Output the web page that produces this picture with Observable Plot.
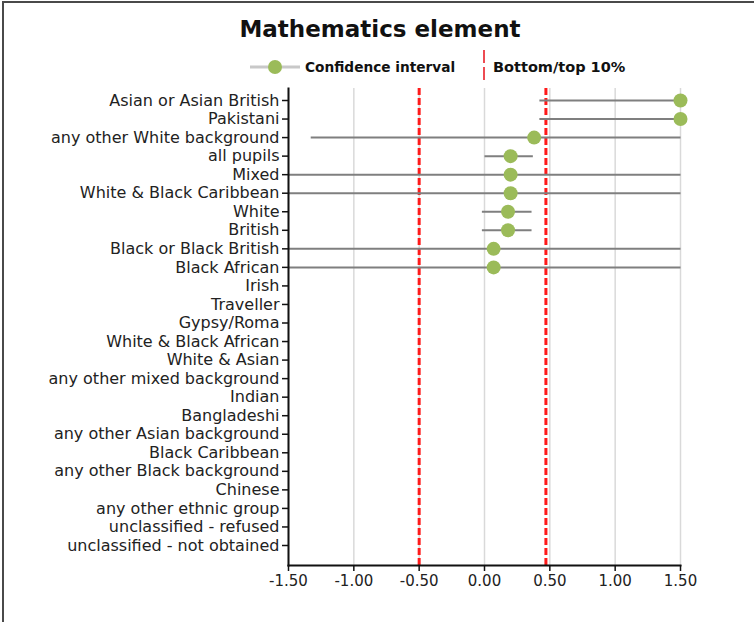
<!DOCTYPE html>
<html>
<head>
<meta charset="utf-8">
<script src="https://cdn.jsdelivr.net/npm/d3@7"></script>
<script src="https://cdn.jsdelivr.net/npm/@observablehq/plot@0.6"></script>
<style>
  body { margin: 0; background: #fff; width: 754px; height: 622px; overflow: hidden; position: relative; font-family: "DejaVu Sans", sans-serif; }
  #frame { position: absolute; left: 2px; top: 1px; width: 800px; height: 700px; border-left: 2px solid #4a4a4a; border-top: 2px solid #4a4a4a; }
  #title { position: absolute; left: 0; width: 760px; top: 16px; text-align: center; font-weight: bold; font-size: 23px; color: #111; }
  #legend { position: absolute; top: 50px; left: 0; width: 754px; height: 34px; }
  #chart { position: absolute; left: 0; top: 80px; }
</style>
</head>
<body>
<div id="frame"></div>
<div id="title">Mathematics element</div>
<svg id="legend" width="754" height="34">
  <line x1="250" x2="300" y1="17" y2="17" stroke="#c8c8c8" stroke-width="3"></line>
  <circle cx="275" cy="17" r="7" fill="#9bbb59"></circle>
  <text x="305" y="22" font-family="DejaVu Sans" font-weight="bold" font-size="13.7" fill="#111">Confidence interval</text>
  <line x1="484" x2="484" y1="0" y2="32" stroke="#e8101a" stroke-width="1.5" stroke-dasharray="13,4"></line>
  <text x="493" y="22" font-family="DejaVu Sans" font-weight="bold" font-size="14.5" fill="#111">Bottom/top 10%</text>
</svg>
<div id="chart"></div>
<script>
const categories = [
  "Asian or Asian British", "Pakistani", "any other White background", "all pupils",
  "Mixed", "White & Black Caribbean", "White", "British", "Black or Black British",
  "Black African", "Irish", "Traveller", "Gypsy/Roma", "White & Black African",
  "White & Asian", "any other mixed background", "Indian", "Bangladeshi",
  "any other Asian background", "Black Caribbean", "any other Black background",
  "Chinese", "any other ethnic group", "unclassified - refused", "unclassified - not obtained"
];
const values = [1.50, 1.50, 0.38, 0.20, 0.20, 0.20, 0.18, 0.18, 0.07, 0.07,
  null, null, null, null, null, null, null, null, null, null, null, null, null, null, null];
const ciLow = [0.42, 0.42, -1.33, 0.00, -1.50, -1.50, -0.02, -0.02, -1.50, -1.50,
  null, null, null, null, null, null, null, null, null, null, null, null, null, null, null];
const ciHigh = [1.50, 1.50, 1.50, 0.37, 1.50, 1.50, 0.36, 0.36, 1.50, 1.50,
  null, null, null, null, null, null, null, null, null, null, null, null, null, null, null];
const thresholds = [-0.50, 0.47];
const xTicks = [-1.5, -1.0, -0.5, 0.0, 0.5, 1.0, 1.5];

const rows = categories.map((c, i) => ({cat: c, v: values[i], lo: ciLow[i], hi: ciHigh[i]}));
const withData = rows.filter(d => d.v != null);

const chart = Plot.plot({
  width: 754,
  height: 530,
  marginLeft: 288,
  marginRight: 74,
  marginTop: 8,
  marginBottom: 45,
  insetTop: 12,
  insetBottom: 20,
  style: {fontFamily: "DejaVu Sans", fontSize: "16px", color: "#222", background: "transparent"},
  x: {domain: [-1.5, 1.5]},
  y: {type: "point", domain: categories, padding: 0, round: false},
  marks: [
    Plot.gridX(xTicks, {stroke: "#d9d9d9", strokeOpacity: 1, strokeWidth: 1.5}),
    Plot.ruleX(thresholds, {stroke: "#ff1a1a", strokeWidth: 3, strokeDasharray: "7,3"}),
    Plot.link(withData, {x1: "lo", x2: "hi", y1: "cat", y2: "cat", stroke: "#7f7f7f", strokeWidth: 2}),
    Plot.dot(withData, {x: "v", y: "cat", r: 7, fill: "#9bbb59", stroke: "none"}),
    Plot.frame({anchor: "left", stroke: "#111", strokeWidth: 2}),
    Plot.frame({anchor: "bottom", stroke: "#111", strokeWidth: 2}),
    Plot.axisX({ticks: xTicks, tickFormat: d => d.toFixed(2), tickSize: 6, tickPadding: 4, stroke: "#111", strokeWidth: 1.5, fill: "#222", label: null, fontSize: 15}),
    Plot.axisY({tickSize: 6, tickPadding: 3, stroke: "#111", strokeWidth: 1.5, fill: "#222", label: null, fontSize: 16})
  ]
});
document.getElementById("chart").appendChild(chart);
</script>
</body>
</html>
